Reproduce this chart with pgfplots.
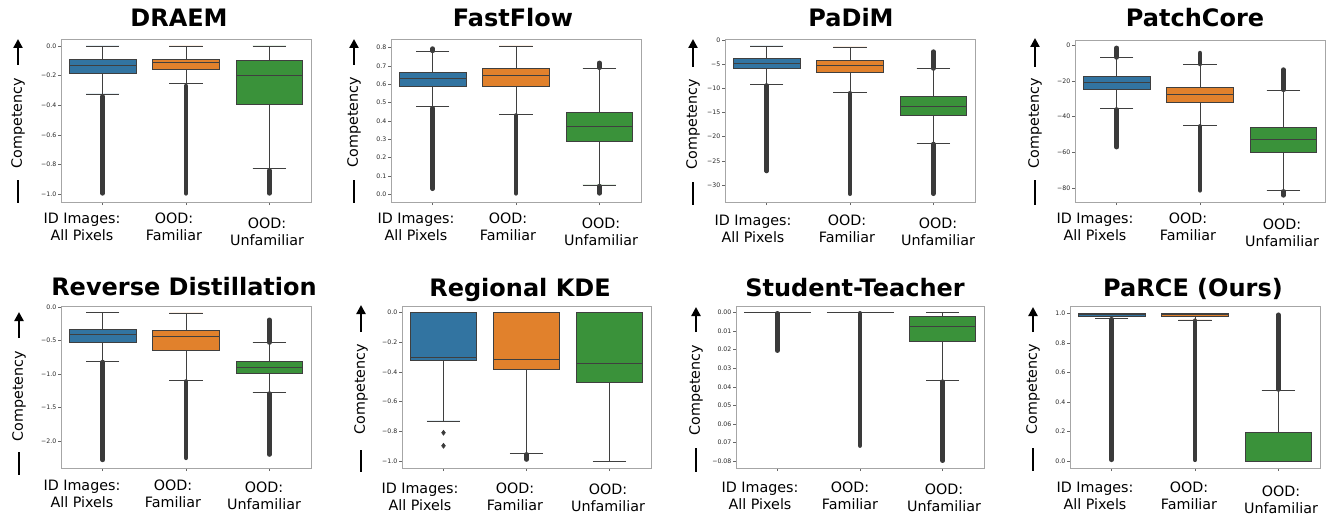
\documentclass[border=0pt]{standalone}
\usepackage{fontspec}
\setmainfont{DejaVu Sans}
\usepackage{pgfplots}
\pgfplotsset{compat=1.18}
\usepgfplotslibrary{statistics}
\usetikzlibrary{arrows.meta}

\definecolor{sbblue}{HTML}{3274A1}
\definecolor{sborange}{HTML}{E1812C}
\definecolor{sbgreen}{HTML}{3A923A}
\definecolor{edge}{HTML}{3F3F3F}
\definecolor{outc}{HTML}{3A3A3A}

\pgfplotsset{
  panel/.style={
    scale only axis, width=250pt, height=163pt, anchor=south west,
    xmin=-0.5, xmax=2.5, xtick={0,1,2}, xticklabels={,,},
    scaled y ticks=false,
    xtick pos=bottom, ytick pos=left, tick align=outside,
    major tick length=3pt,
    every tick/.style={gray!80!black, line width=0.5pt},
    axis line style={gray!70, line width=0.6pt},
    yticklabel style={font=\fontsize{6.2}{7}\selectfont, text=black!85, inner sep=1.5pt},
    boxplot/box extend=0.8, boxplot/whisker extend=0.4,
    boxplot/draw direction=y,
  },
  bx/.style={draw=edge, fill=#1, line width=0.8pt},
  outl/.style={color=outc, line width=4.5pt, line cap=round},
}

\tikzset{
  ttl/.style={font=\fontsize{24}{28}\selectfont\bfseries, anchor=base, inner sep=0pt},
  lab/.style={font=\fontsize{14.3}{17}\selectfont, align=center, inner sep=0pt},
}

% x, text y, arrow top, arrow bottom, bar top, bar bottom
\newcommand{\complab}[6]{%
  \node[lab, rotate=90] at (#1pt,-#2pt) {Competency};
  \draw[-{Triangle[length=9pt,width=9pt]}, line width=2.6pt] (#1pt,-#4pt) -- (#1pt,-#3pt);
  \draw[line width=2.6pt] (#1pt,-#5pt) -- (#1pt,-#6pt);
}
% x positions of the three category labels, y of the first two, y of the third
\newcommand{\cats}[5]{%
  \node[lab] at (#1pt,-#4pt) {ID Images:\\All Pixels};
  \node[lab] at (#2pt,-#4pt) {OOD:\\Familiar};
  \node[lab] at (#3pt,-#5pt) {OOD:\\Unfamiliar};
}

\begin{document}
\begin{tikzpicture}
\path[use as bounding box] (0,0) rectangle (1336pt,-519pt);

% ---------------- DRAEM
\begin{axis}[panel, at={(61pt,-202pt)}, ymin=-1.053, ymax=0.047,
  ytick={-1,-0.8,-0.6,-0.4,-0.2,0},
  yticklabels={−1.0,−0.8,−0.6,−0.4,−0.2,0.0}]
\addplot[outl] coordinates {(0,-0.34) (0,-0.995)};
\addplot[outl] coordinates {(1,-0.27) (1,-0.995)};
\addplot[outl] coordinates {(2,-0.84) (2,-0.995)};
\addplot[bx=sbblue, boxplot prepared={lower whisker=-0.324, lower quartile=-0.184, median=-0.128, upper quartile=-0.094, upper whisker=0, draw position=0}] coordinates {};
\addplot[bx=sborange, boxplot prepared={lower whisker=-0.252, lower quartile=-0.155, median=-0.112, upper quartile=-0.09, upper whisker=0, draw position=1}] coordinates {};
\addplot[bx=sbgreen, boxplot prepared={lower whisker=-0.825, lower quartile=-0.391, median=-0.198, upper quartile=-0.099, upper whisker=0, draw position=2}] coordinates {};
\end{axis}

% ---------------- FastFlow
\begin{axis}[panel, at={(391pt,-202pt)}, ymin=-0.042, ymax=0.847,
  ytick={0,0.1,0.2,0.3,0.4,0.5,0.6,0.7,0.8},
  yticklabels={0.0,0.1,0.2,0.3,0.4,0.5,0.6,0.7,0.8}]
\addplot[outl] coordinates {(0,0.782) (0,0.795)};
\addplot[outl] coordinates {(0,0.47) (0,0.03)};
\addplot[outl] coordinates {(1,0.43) (1,0.005)};
\addplot[outl] coordinates {(2,0.69) (2,0.717)};
\addplot[outl] coordinates {(2,0.045) (2,0.005)};
\addplot[bx=sbblue, boxplot prepared={lower whisker=0.478, lower quartile=0.591, median=0.633, upper quartile=0.667, upper whisker=0.778, draw position=0}] coordinates {};
\addplot[bx=sborange, boxplot prepared={lower whisker=0.436, lower quartile=0.587, median=0.649, upper quartile=0.689, upper whisker=0.809, draw position=1}] coordinates {};
\addplot[bx=sbgreen, boxplot prepared={lower whisker=0.051, lower quartile=0.289, median=0.369, upper quartile=0.445, upper whisker=0.687, draw position=2}] coordinates {};
\end{axis}

% ---------------- PaDiM
\begin{axis}[panel, at={(725pt,-202pt)}, ymin=-33.5, ymax=0.2,
  ytick={-30,-25,-20,-15,-10,-5,0},
  yticklabels={−30,−25,−20,−15,−10,−5,0}]
\addplot[outl] coordinates {(0,-9.4) (0,-27.1)};
\addplot[outl] coordinates {(1,-11) (1,-31.8)};
\addplot[outl] coordinates {(2,-5.9) (2,-2.4)};
\addplot[outl] coordinates {(2,-21.5) (2,-31.8)};
\addplot[bx=sbblue, boxplot prepared={lower whisker=-9.17, lower quartile=-5.93, median=-4.83, upper quartile=-3.86, upper whisker=-1.24, draw position=0}] coordinates {};
\addplot[bx=sborange, boxplot prepared={lower whisker=-10.83, lower quartile=-6.69, median=-5.17, upper quartile=-4.14, upper whisker=-1.45, draw position=1}] coordinates {};
\addplot[bx=sbgreen, boxplot prepared={lower whisker=-21.4, lower quartile=-15.5, median=-13.66, upper quartile=-11.7, upper whisker=-5.93, draw position=2}] coordinates {};
\end{axis}

% ---------------- PatchCore
\begin{axis}[panel, at={(1075pt,-202pt)}, height=162pt, ymin=-88, ymax=3,
  ytick={-80,-60,-40,-20,0},
  yticklabels={−80,−60,−40,−20,0}]
\addplot[outl] coordinates {(0,-6.8) (0,-1.4)};
\addplot[outl] coordinates {(0,-36) (0,-57.2)};
\addplot[outl] coordinates {(1,-10.5) (1,-4.3)};
\addplot[outl] coordinates {(1,-45.5) (1,-81.5)};
\addplot[outl] coordinates {(2,-25) (2,-13.6)};
\addplot[outl] coordinates {(2,-82) (2,-84.3)};
\addplot[bx=sbblue, boxplot prepared={lower whisker=-35.6, lower quartile=-24.7, median=-21.0, upper quartile=-17.6, upper whisker=-6.74, draw position=0}] coordinates {};
\addplot[bx=sborange, boxplot prepared={lower whisker=-45.2, lower quartile=-32.0, median=-27.5, upper quartile=-23.6, upper whisker=-10.5, draw position=1}] coordinates {};
\addplot[bx=sbgreen, boxplot prepared={lower whisker=-81.7, lower quartile=-60.3, median=-52.6, upper quartile=-46.1, upper whisker=-25.1, draw position=2}] coordinates {};
\end{axis}

% ---------------- Reverse Distillation
\begin{axis}[panel, at={(61pt,-468pt)}, height=162pt, ymin=-2.40, ymax=0.015,
  ytick={-2,-1.5,-1,-0.5,0},
  yticklabels={−2.0,−1.5,−1.0,−0.5,0.0}]
\addplot[outl] coordinates {(0,-0.82) (0,-2.28)};
\addplot[outl] coordinates {(1,-1.11) (1,-2.25)};
\addplot[outl] coordinates {(2,-0.53) (2,-0.19)};
\addplot[outl] coordinates {(2,-1.29) (2,-2.2)};
\addplot[bx=sbblue, boxplot prepared={lower whisker=-0.809, lower quartile=-0.531, median=-0.412, upper quartile=-0.337, upper whisker=-0.084, draw position=0}] coordinates {};
\addplot[bx=sborange, boxplot prepared={lower whisker=-1.10, lower quartile=-0.65, median=-0.442, upper quartile=-0.347, upper whisker=-0.089, draw position=1}] coordinates {};
\addplot[bx=sbgreen, boxplot prepared={lower whisker=-1.28, lower quartile=-0.993, median=-0.903, upper quartile=-0.804, upper whisker=-0.526, draw position=2}] coordinates {};
\end{axis}

% ---------------- Regional KDE
\begin{axis}[panel, at={(402pt,-468pt)}, width=249pt, height=162pt, ymin=-1.047, ymax=0.045,
  ytick={-1,-0.8,-0.6,-0.4,-0.2,0},
  yticklabels={−1.0,−0.8,−0.6,−0.4,−0.2,0.0}]
\addplot[only marks, mark=diamond*, mark size=2.6pt, color=outc] coordinates {(0,-0.809) (0,-0.897)};
\addplot[outl] coordinates {(1,-0.955) (1,-0.99)};
\addplot[bx=sbblue, boxplot prepared={lower whisker=-0.73, lower quartile=-0.319, median=-0.301, upper quartile=0, upper whisker=0, draw position=0}] coordinates {};
\addplot[bx=sborange, boxplot prepared={lower whisker=-0.948, lower quartile=-0.382, median=-0.315, upper quartile=0, upper whisker=0, draw position=1}] coordinates {};
\addplot[bx=sbgreen, boxplot prepared={lower whisker=-1.0, lower quartile=-0.467, median=-0.342, upper quartile=0, upper whisker=0, draw position=2}] coordinates {};
\end{axis}

% ---------------- Student-Teacher
\begin{axis}[panel, at={(736pt,-468pt)}, width=248pt, height=162pt, ymin=-0.0836, ymax=0.0034,
  ytick={-0.08,-0.07,-0.06,-0.05,-0.04,-0.03,-0.02,-0.01,0},
  yticklabels={−0.08,0.07,0.06,0.05,0.04,0.03,0.02,0.01,0.00}]
\addplot[outl] coordinates {(0,-0.0005) (0,-0.0206)};
\addplot[outl] coordinates {(1,-0.0005) (1,-0.0716)};
\addplot[outl] coordinates {(2,-0.0372) (2,-0.0797)};
\addplot[bx=sbblue, boxplot prepared={lower whisker=-0.0002, lower quartile=-0.0002, median=-0.0001, upper quartile=0, upper whisker=0, draw position=0}] coordinates {};
\addplot[bx=sborange, boxplot prepared={lower whisker=-0.0002, lower quartile=-0.0002, median=-0.0001, upper quartile=0, upper whisker=0, draw position=1}] coordinates {};
\addplot[bx=sbgreen, boxplot prepared={lower whisker=-0.0367, lower quartile=-0.01575, median=-0.00734, upper quartile=-0.00197, upper whisker=0, draw position=2}] coordinates {};
\end{axis}

% ---------------- PaRCE (Ours)
\begin{axis}[panel, at={(1070pt,-468pt)}, height=162pt, ymin=-0.045, ymax=1.049,
  ytick={0,0.2,0.4,0.6,0.8,1},
  yticklabels={0.0,0.2,0.4,0.6,0.8,1.0}]
\addplot[outl] coordinates {(0,0.96) (0,0.01)};
\addplot[outl] coordinates {(1,0.95) (1,0.01)};
\addplot[outl] coordinates {(2,0.485) (2,0.99)};
\addplot[bx=sbblue, boxplot prepared={lower whisker=0.966, lower quartile=0.982, median=0.993, upper quartile=1.0, upper whisker=1.0, draw position=0}] coordinates {};
\addplot[bx=sborange, boxplot prepared={lower whisker=0.955, lower quartile=0.977, median=0.989, upper quartile=1.0, upper whisker=1.0, draw position=1}] coordinates {};
\addplot[bx=sbgreen, boxplot prepared={lower whisker=0, lower quartile=0, median=0, upper quartile=0.194, upper whisker=0.477, draw position=2}] coordinates {};
\end{axis}

% titles
\node[ttl] at (179pt,-27pt) {DRAEM};
\node[ttl] at (513pt,-27pt) {FastFlow};
\node[ttl] at (851pt,-27pt) {PaDiM};
\node[ttl] at (1195pt,-27pt) {PatchCore};
\node[ttl] at (184pt,-295pt) {Reverse Distillation};
\node[ttl] at (520pt,-296pt) {Regional KDE};
\node[ttl] at (855pt,-296pt) {Student-Teacher};
\node[ttl] at (1193pt,-296pt) {PaRCE (Ours)};

% y labels with arrows
\complab{18}{123}{39}{65}{180}{203}
\complab{354}{122}{39}{65}{180}{203}
\complab{693}{124}{39}{67}{182}{205}
\complab{1035}{123}{38}{67}{180}{205}
\complab{19}{396}{312}{338}{452}{475}
\complab{361}{389}{305}{332}{450}{472}
\complab{696}{390}{307}{332}{448}{472}
\complab{1033}{389}{307}{332}{448}{471}

% category labels
\cats{82}{174}{267}{227}{232}
\cats{416}{508}{601}{227}{232}
\cats{753}{847}{938}{229}{232}
\cats{1095}{1188}{1282}{227}{233}
\cats{82}{173}{264}{494}{496}
\cats{420}{515}{608}{497}{498}
\cats{760}{850}{944}{496}{498}
\cats{1095}{1189}{1281}{496}{500}
\end{tikzpicture}
\end{document}
